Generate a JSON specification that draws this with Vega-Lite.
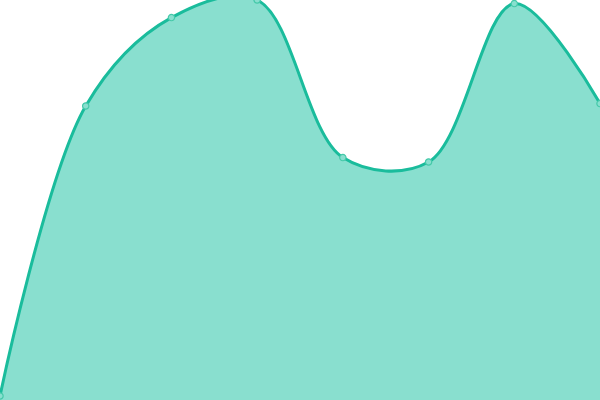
{
  "$schema": "https://vega.github.io/schema/vega-lite/v6.json",
  "width": 600,
  "height": 400,
  "autosize": {"type": "none"},
  "padding": 0,
  "background": "white",
  "data": {
    "values": [
      {"x": 0, "y": 1},
      {"x": 1, "y": 73.5},
      {"x": 2, "y": 95.6},
      {"x": 3, "y": 100},
      {"x": 4, "y": 60.6},
      {"x": 5, "y": 59.5},
      {"x": 6, "y": 99.1},
      {"x": 7, "y": 74.1}
    ]
  },
  "encoding": {
    "x": {"field": "x", "type": "quantitative", "axis": null, "scale": {"domain": [0, 7], "nice": false}},
    "y": {"field": "y", "type": "quantitative", "axis": null, "scale": {"domain": [0, 100], "nice": false}}
  },
  "layer": [
    {"mark": {"type": "area", "interpolate": "catmull-rom", "color": "#89dfcf", "opacity": 1}},
    {"mark": {"type": "line", "interpolate": "catmull-rom", "color": "#1abc9c", "strokeWidth": 3}},
    {"mark": {"type": "point", "filled": true, "size": 40, "fill": "#89dfcf", "stroke": "#45c9a9", "strokeWidth": 1.2, "opacity": 1}}
  ],
  "config": {"view": {"stroke": "transparent"}}
}
